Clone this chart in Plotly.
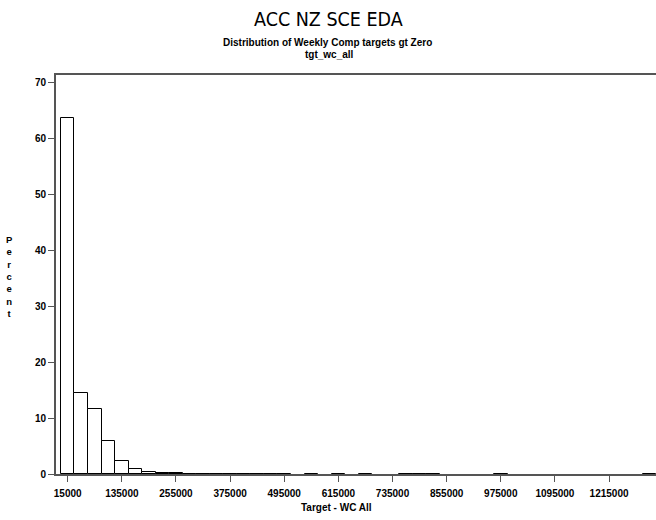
import plotly.graph_objects as go

# Histogram bins (midpoints, width 30000) and percent of observations
bin_mid = [15000, 45000, 75000, 105000, 135000, 165000, 195000, 225000, 255000,
           285000, 315000, 345000, 375000, 405000, 435000, 465000, 495000,
           555000, 615000, 675000, 765000, 795000, 825000, 975000, 1305000]
percent = [63.7, 14.4, 11.7, 5.95, 2.4, 0.9, 0.42, 0.25, 0.12,
           0.08, 0.06, 0.05, 0.05, 0.05, 0.05, 0.05, 0.05,
           0.05, 0.05, 0.05, 0.05, 0.05, 0.05, 0.05, 0.05]
bin_width = 30000
x_ticks = [15000, 135000, 255000, 375000, 495000, 615000, 735000, 855000,
           975000, 1095000, 1215000]
y_ticks = [0, 10, 20, 30, 40, 50, 60, 70]

fig = go.Figure(go.Bar(
    x=bin_mid, y=percent, width=[bin_width] * len(bin_mid),
    marker=dict(color="white", line=dict(color="black", width=1)),
    cliponaxis=True,
))

FONT = "Liberation Sans, Arial, sans-serif"
TITLE_FONT = "Liberation Sans Narrow, Arial Narrow, DejaVu Sans Condensed, sans-serif"
tick_font = dict(family=FONT, size=10, color="black", weight="bold")
axis_col = "#555555"

L, T, PW, PH = 56, 75, 600, 399


def paper_x(px):
    return (px - L) / float(PW)


def paper_y(py):
    return 1 + (T - py) / float(PH)


ann = [
    dict(text="ACC NZ SCE EDA", x=paper_x(328), y=paper_y(19),
         font=dict(family=TITLE_FONT, size=19.5, color="black")),
    dict(text="Distribution of Weekly Comp targets gt Zero", x=paper_x(327), y=paper_y(42),
         font=dict(family=FONT, size=10, color="black", weight="bold")),
    dict(text="tgt_wc_all", x=paper_x(329), y=paper_y(54),
         font=dict(family=FONT, size=10, color="black", weight="bold")),
    dict(text="Target - WC All", x=paper_x(336), y=paper_y(507),
         font=dict(family=FONT, size=10, color="black", weight="bold")),
    dict(text="<br>".join(list("Percent")), x=paper_x(9), y=paper_y(276),
         align="center",
         font=dict(family=FONT, size=9.5, color="black", weight="bold")),
]
for a in ann:
    a.update(xref="paper", yref="paper", showarrow=False,
             xanchor="center", yanchor="middle")

fig.update_layout(
    width=656, height=520,
    margin=dict(l=L, r=656 - L - PW, t=T, b=520 - T - PH),
    paper_bgcolor="white", plot_bgcolor="white",
    showlegend=False, bargap=0,
    xaxis=dict(range=[-10900, 1319000], tickvals=x_ticks,
               ticktext=[str(v) for v in x_ticks],
               showgrid=False, zeroline=False,
               showline=True, linecolor=axis_col, linewidth=2, mirror=True,
               ticks="outside", ticklen=6, tickcolor=axis_col, tickwidth=1,
               ticklabelstandoff=3,
               tickfont=tick_font),
    yaxis=dict(range=[0, 71.3], tickvals=y_ticks,
               showgrid=False, zeroline=False,
               showline=True, linecolor=axis_col, linewidth=2, mirror=False,
               ticks="outside", ticklen=6, tickcolor=axis_col, tickwidth=1,
               tickfont=tick_font),
    annotations=ann,
)

fig.write_html("out.html")
